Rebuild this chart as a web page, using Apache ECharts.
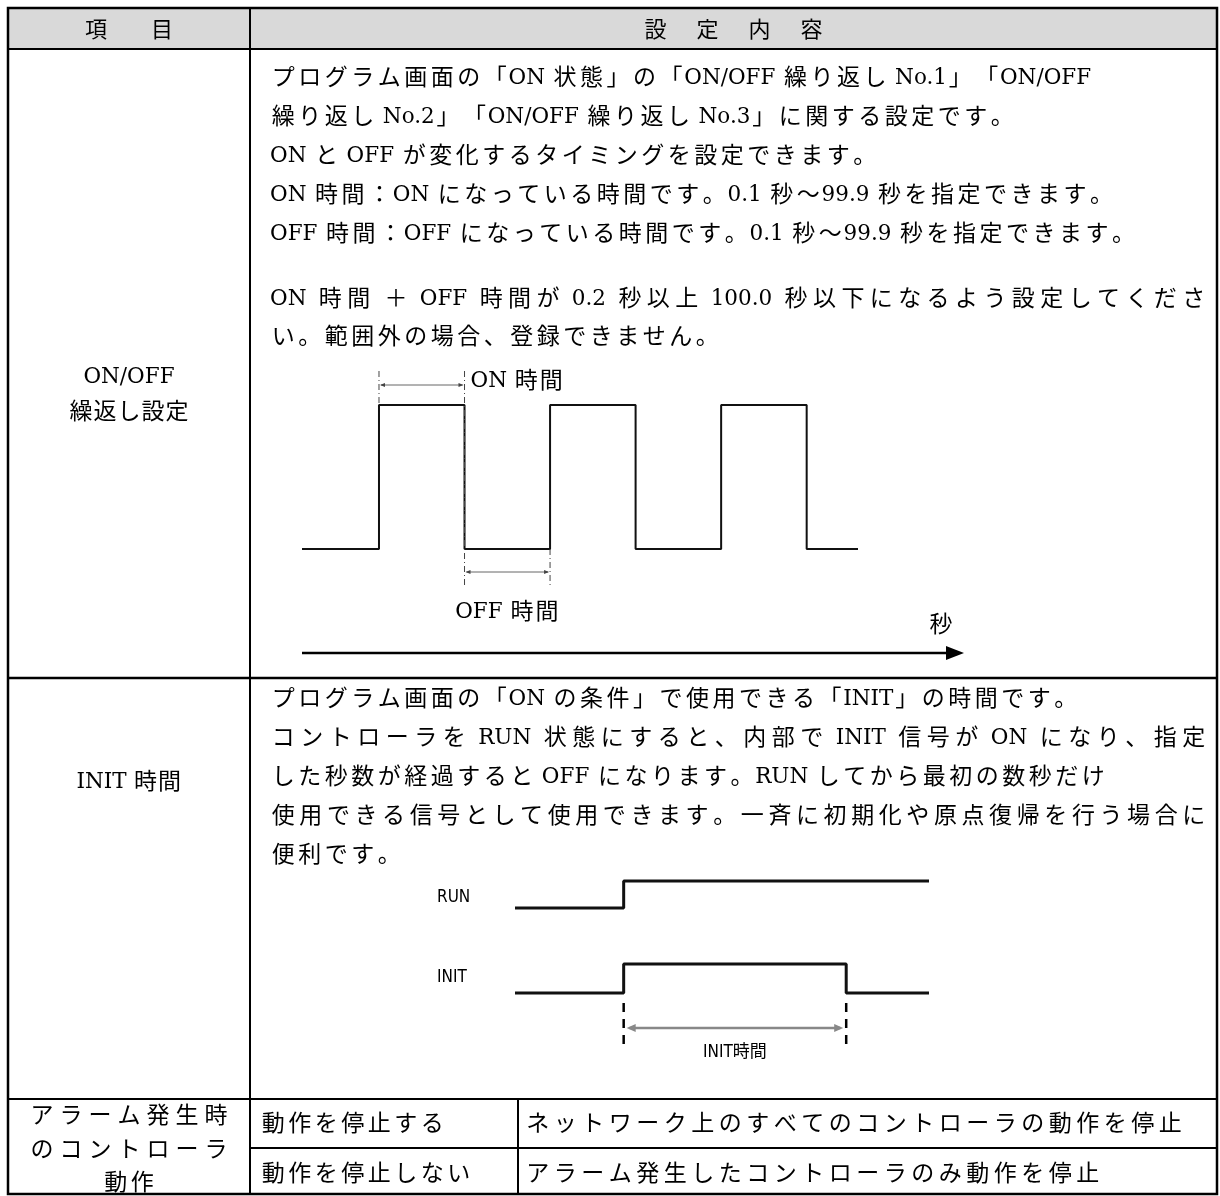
<!DOCTYPE html>
<html><head><meta charset="utf-8">
<script src="https://cdn.jsdelivr.net/npm/echarts@6/dist/echarts.min.js"></script>
<style>html,body{margin:0;padding:0;background:#fff}#c{width:1220px;height:1196px}</style>
</head><body><div id="c"></div>
<script>
// ---- content / data ----
const headerLabels = ['項　　目', '設　定　内　容'];
const onoffLabel = ['ON/OFF', '繰返し設定'];
const initLabel = ['INIT 時間'];
const alarmLabel = ['アラーム発生時', 'のコントローラ', '動作'];
const onoffText = [
  'プログラム画面の「ON 状態」の「ON/OFF 繰り返し No.1」「ON/OFF',
  '繰り返し No.2」「ON/OFF 繰り返し No.3」に関する設定です。',
  'ON と OFF が変化するタイミングを設定できます。',
  'ON 時間：ON になっている時間です。0.1 秒～99.9 秒を指定できます。',
  'OFF 時間：OFF になっている時間です。0.1 秒～99.9 秒を指定できます。'
];
const onoffNote = [
  'ON 時間 ＋ OFF 時間が 0.2 秒以上 100.0 秒以下になるよう設定してくださ',
  'い。範囲外の場合、登録できません。'
];
const initText = [
  'プログラム画面の「ON の条件」で使用できる「INIT」の時間です。',
  'コントローラを RUN 状態にすると、内部で INIT 信号が ON になり、指定',
  'した秒数が経過すると OFF になります。RUN してから最初の数秒だけ',
  '使用できる信号として使用できます。一斉に初期化や原点復帰を行う場合に',
  '便利です。'
];
const alarmOptions = ['動作を停止する', '動作を停止しない'];
const alarmDesc = ['ネットワーク上のすべてのコントローラの動作を停止', 'アラーム発生したコントローラのみ動作を停止'];
const diagramLabels = { on: 'ON 時間', off: 'OFF 時間', axis: '秒', run: 'RUN', init: 'INIT', span: 'INIT時間' };

// waveform data (time, level)
const pulseTimes = [0, 0.9, 1.9, 2.9, 3.9, 4.9, 5.9, 6.5];
const pulseLevels = [0, 1, 0, 1, 0, 1, 0, 0];
const runTimes = [0, 2.1, 8];
const runLevels = [0, 1, 1];
const initTimes = [0, 2.1, 6.4, 8];
const initLevels = [0, 1, 0, 0];

// ---- rendering ----
const LATIN_FONT = '"DejaVu Serif", serif';
const CJK_FONT = '"Noto Sans CJK JP", "Noto Sans CJK SC", sans-serif';
const SANS = '"DejaVu Sans Condensed", "Noto Sans CJK JP", sans-serif';
const chart = echarts.init(document.getElementById('c'), null, { renderer: 'canvas' });

function pairs(t, v) { return t.map((x, i) => [x, v[i]]); }
function hidden(gi, min, max) {
  return { gridIndex: gi, type: 'value', min: min, max: max, show: false, splitLine: { show: false } };
}
function wave(gi, data, w) {
  return { type: 'line', xAxisIndex: gi, yAxisIndex: gi, data: data, step: 'end', symbol: 'none', clip: false,
    lineStyle: { color: '#111', width: w }, silent: true };
}

chart.setOption({
  animation: false,
  backgroundColor: '#fff',
  grid: [
    { left: 302, top: 405, width: 556, height: 144 },
    { left: 515, top: 881, width: 414, height: 27 },
    { left: 515, top: 964, width: 414, height: 29 }
  ],
  xAxis: [hidden(0, 0, 6.5), hidden(1, 0, 8), hidden(2, 0, 8)],
  yAxis: [hidden(0, 0, 1), hidden(1, 0, 1), hidden(2, 0, 1)],
  series: [
    wave(0, pairs(pulseTimes, pulseLevels), 2),
    wave(1, pairs(runTimes, runLevels), 3),
    wave(2, pairs(initTimes, initLevels), 3)
  ]
});

const g = [];
function P(gi, x, y) { return chart.convertToPixel({ gridIndex: gi }, [x, y]); }
function txtRaw(text, x, y, size, align, family) {
  return { type: 'text', z: 10, silent: true,
    style: { text: text, x: x, y: y, fill: '#000', fontSize: size, fontFamily: family,
      align: align || 'left', verticalAlign: 'middle' } };
}
function ln(x1, y1, x2, y2, w, color, dash) {
  return { type: 'line', z: 5, silent: true, shape: { x1: x1, y1: y1, x2: x2, y2: y2 },
    style: { stroke: color || '#000', lineWidth: w, lineDash: dash || null } };
}
function tri(pts, color) {
  return { type: 'polygon', z: 6, silent: true, shape: { points: pts }, style: { fill: color || '#000' } };
}

// Japanese-document style line layout: CJK characters on a grid pitch, Latin words at natural width.
const mctx = document.createElement('canvas').getContext('2d');
function mw(s, size) { mctx.font = size + 'px ' + LATIN_FONT; return mctx.measureText(s).width; }
function isCJK(ch) { return ch.charCodeAt(0) > 0x2000; }
function tokenize(s) {
  const toks = []; let w = '';
  for (const ch of s) {
    if (ch === ' ') { if (w) { toks.push({ t: 'w', s: w }); w = ''; } toks.push({ t: 'sp' }); }
    else if (isCJK(ch)) { if (w) { toks.push({ t: 'w', s: w }); w = ''; } toks.push({ t: 'c', s: ch }); }
    else w += ch;
  }
  if (w) toks.push({ t: 'w', s: w });
  return toks;
}
function layoutLine(s, x, y, o) {
  o = Object.assign({ pitch: 26.5, cjk: 23, latin: 21.5 }, o || {});
  const toks = tokenize(s);
  const spW = mw(' ', o.latin);
  let nat = 0;
  toks.forEach(t => {
    if (t.t === 'c') nat += o.pitch;
    else if (t.t === 'w') { t.w = mw(t.s, o.latin); nat += t.w; }
    else nat += spW;
  });
  // justified lines: spread the remaining room evenly over all gaps
  const gap = (o.justify != null && toks.length > 1) ? Math.max(0, (o.justify - x - nat) / (toks.length - 1)) : 0;
  let cx = o.align === 'center' ? x - nat / 2 : x;
  const latinDy = o.latin * 0.13;
  toks.forEach(t => {
    if (t.t === 'c') { if (t.s !== '　') g.push(txtRaw(t.s, cx + o.pitch / 2, y, o.cjk, 'center', CJK_FONT)); cx += o.pitch; }
    else if (t.t === 'w') { g.push(txtRaw(t.s, cx, y + latinDy, o.latin, 'left', LATIN_FONT)); cx += t.w; }
    else cx += spW;
    cx += gap;
  });
}

// table frame
const L = 8, R = 1217, T = 8, B = 1194, C1 = 250, C2 = 518;
const yHead = 49, yRow1 = 678, yRow2 = 1099, ySub = 1148;
const midL = (L + C1) / 2;
g.push({ type: 'rect', z: 1, silent: true, shape: { x: L, y: T, width: R - L, height: yHead - T }, style: { fill: '#d9d9d9' } });
g.push({ type: 'rect', z: 7, silent: true, shape: { x: L, y: T, width: R - L, height: B - T }, style: { fill: null, stroke: '#000', lineWidth: 2.5 } });
g.push(ln(L, yHead, R, yHead, 2));
g.push(ln(C1, T, C1, B, 2));
g.push(ln(L, yRow1, R, yRow1, 2.5));
g.push(ln(L, yRow2, R, yRow2, 2));
g.push(ln(C1, ySub, R, ySub, 2));
g.push(ln(C2, yRow2, C2, B, 2));

// header
layoutLine(headerLabels[0], midL, 29, { align: 'center', pitch: 22, cjk: 22 });
layoutLine(headerLabels[1], (C1 + R) / 2, 29, { align: 'center', pitch: 26, cjk: 22 });

// left labels
layoutLine(onoffLabel[0], midL, 375, { align: 'center' });
layoutLine(onoffLabel[1], midL, 410, { align: 'center', pitch: 24 });
layoutLine(initLabel[0], midL, 780, { align: 'center', pitch: 24 });
layoutLine(alarmLabel[0], midL, 1114, { align: 'center', pitch: 29 });
layoutLine(alarmLabel[1], midL, 1148, { align: 'center', pitch: 29 });
layoutLine(alarmLabel[2], midL, 1181, { align: 'center' });

// right texts
const X0 = 270, XE = 1207;
const onoffJust = [null, null, null, null, null];
onoffText.forEach((s, i) => layoutLine(s, X0, 76 + i * 39, { justify: onoffJust[i] }));
const noteJust = [XE, null];
onoffNote.forEach((s, i) => layoutLine(s, X0, 297 + i * 38, { justify: noteJust[i] }));
const initJust = [null, XE, null, XE, null];
initText.forEach((s, i) => layoutLine(s, X0, 697 + i * 39, { justify: initJust[i] }));
alarmOptions.forEach((s, i) => layoutLine(s, 260, [1122, 1172][i]));
alarmDesc.forEach((s, i) => layoutLine(s, 524, [1122, 1172][i], { pitch: 27.5 }));

// pulse diagram annotations
const pr1 = P(0, pulseTimes[1], 1), pf1 = P(0, pulseTimes[2], 0), pr2 = P(0, pulseTimes[3], 0);
const p0 = P(0, pulseTimes[0], 0);
const yOnArrow = pr1[1] - 20, yOffArrow = pf1[1] + 23, dashBottom = pf1[1] + 38;
const DD = [6, 3, 1, 3];
g.push(ln(pr1[0], yOnArrow - 14, pr1[0], pr1[1], 1, '#444', DD));
g.push(ln(pf1[0], yOnArrow - 14, pf1[0], dashBottom, 1, '#444', DD));
g.push(ln(pr2[0], pf1[1], pr2[0], dashBottom, 1, '#444', DD));
g.push(ln(pr1[0] + 2, yOnArrow, pf1[0] - 2, yOnArrow, 1, '#666'));
g.push(tri([[pr1[0] + 1, yOnArrow], [pr1[0] + 6, yOnArrow - 2], [pr1[0] + 6, yOnArrow + 2]], '#444'));
g.push(tri([[pf1[0] - 1, yOnArrow], [pf1[0] - 6, yOnArrow - 2], [pf1[0] - 6, yOnArrow + 2]], '#444'));
g.push(ln(pf1[0] + 2, yOffArrow, pr2[0] - 2, yOffArrow, 1, '#666'));
g.push(tri([[pf1[0] + 1, yOffArrow], [pf1[0] + 6, yOffArrow - 2], [pf1[0] + 6, yOffArrow + 2]], '#444'));
g.push(tri([[pr2[0] - 1, yOffArrow], [pr2[0] - 6, yOffArrow - 2], [pr2[0] - 6, yOffArrow + 2]], '#444'));
layoutLine(diagramLabels.on, pf1[0] + 6, yOnArrow - 6, { pitch: 25 });
layoutLine(diagramLabels.off, (pf1[0] + pr2[0]) / 2, pf1[1] + 61, { align: 'center', pitch: 25 });
const yAxisArrow = pf1[1] + 104;
g.push(ln(p0[0], yAxisArrow, 950, yAxisArrow, 2.5));
g.push(tri([[946, yAxisArrow - 7], [964, yAxisArrow], [946, yAxisArrow + 7]]));
layoutLine(diagramLabels.axis, 941, yAxisArrow - 30, { align: 'center' });

// INIT diagram annotations
const r0 = P(1, 0, 0), i0 = P(2, 0, 0);
const ir = P(2, initTimes[1], 0), iff = P(2, initTimes[2], 0);
g.push(txtRaw(diagramLabels.run, r0[0] - 78, r0[1] - 10, 17, 'left', SANS));
g.push(txtRaw(diagramLabels.init, i0[0] - 78, i0[1] - 15, 17, 'left', SANS));
const dTop = ir[1] + 10, dBot = ir[1] + 52, yArr = ir[1] + 35;
g.push(ln(ir[0], dTop, ir[0], dBot, 2.5, '#000', [9, 7]));
g.push(ln(iff[0], dTop, iff[0], dBot, 2.5, '#000', [9, 7]));
g.push(ln(ir[0] + 6, yArr, iff[0] - 6, yArr, 2.5, '#888'));
g.push(tri([[ir[0] + 3, yArr], [ir[0] + 12, yArr - 4], [ir[0] + 12, yArr + 4]], '#888'));
g.push(tri([[iff[0] - 3, yArr], [iff[0] - 12, yArr - 4], [iff[0] - 12, yArr + 4]], '#888'));
g.push(txtRaw(diagramLabels.span, (ir[0] + iff[0]) / 2, ir[1] + 60, 17, 'center', SANS));

chart.setOption({ graphic: g });
</script></body></html>
